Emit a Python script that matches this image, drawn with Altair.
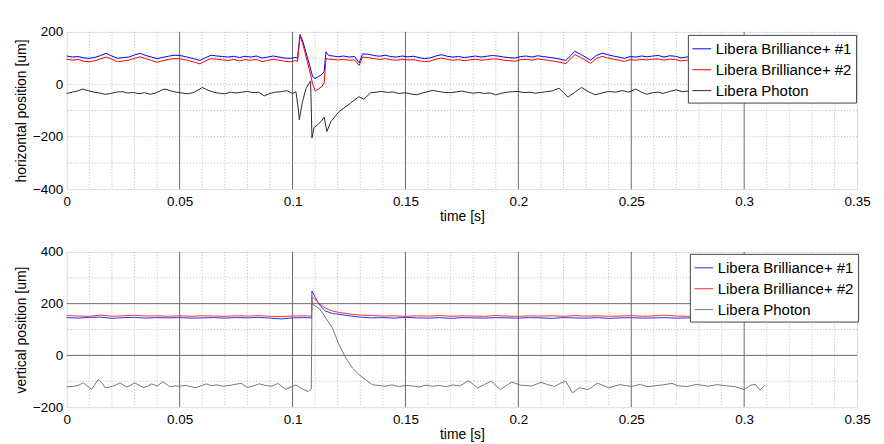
import altair as alt
import pandas as pd

SERIES = ["Libera Brilliance+ #1", "Libera Brilliance+ #2", "Libera Photon"]

# ---- top panel: horizontal position (t [s], blue #1, red #2) ----
TOP_BR = [
    (0.000, 108, 96), (0.0025, 104, 92), (0.005, 106, 95), (0.0075, 101, 88), (0.010, 99, 86),
    (0.0125, 103, 90), (0.015, 110, 97), (0.0175, 118, 104), (0.020, 108, 96), (0.0225, 99, 86),
    (0.025, 102, 89), (0.0275, 104, 92), (0.030, 112, 99), (0.0325, 118, 105), (0.035, 110, 98),
    (0.0375, 104, 91), (0.040, 98, 84), (0.0425, 103, 90), (0.045, 107, 95), (0.0475, 111, 98),
    (0.050, 110, 97), (0.0525, 106, 94), (0.055, 100, 88), (0.0575, 95, 82), (0.059, 91, 78),
    (0.0615, 102, 90), (0.064, 111, 98), (0.0665, 108, 96), (0.069, 106, 93), (0.0715, 104, 91),
    (0.074, 107, 95), (0.0765, 102, 89), (0.079, 107, 94), (0.0815, 104, 92), (0.084, 108, 95),
    (0.0865, 100, 87), (0.089, 104, 91), (0.0915, 108, 96), (0.094, 104, 92), (0.0965, 100, 88),
    (0.099, 99, 86), (0.1015, 103, 91), (0.1022, 99, 87), (0.1033, 190, 183), (0.1045, 165, 155),
    (0.106, 120, 105), (0.1075, 75, 55), (0.1089, 29, 2), (0.110, 22, -25), (0.1115, 30, -18),
    (0.113, 38, -8), (0.114, 48, 5), (0.1148, 124, 99), (0.116, 110, 96), (0.118, 108, 95),
    (0.120, 105, 93), (0.1225, 108, 95), (0.125, 104, 92), (0.1275, 106, 93), (0.1295, 82, 72),
    (0.131, 116, 104), (0.1335, 115, 102), (0.136, 110, 98), (0.1385, 107, 95), (0.141, 111, 98),
    (0.1435, 106, 94), (0.146, 104, 92), (0.1485, 108, 96), (0.151, 105, 93), (0.1535, 107, 94),
    (0.156, 102, 90), (0.1585, 98, 86), (0.161, 101, 89), (0.1635, 108, 96), (0.166, 113, 100),
    (0.1685, 107, 95), (0.171, 104, 92), (0.1735, 106, 94), (0.176, 102, 90), (0.1785, 105, 93),
    (0.181, 108, 96), (0.1835, 104, 92), (0.186, 107, 94), (0.1885, 110, 97), (0.191, 108, 96),
    (0.1935, 104, 92), (0.196, 102, 90), (0.1985, 100, 88), (0.201, 106, 94), (0.2035, 108, 95),
    (0.206, 104, 92), (0.2085, 109, 97), (0.211, 106, 94), (0.2135, 103, 91), (0.216, 100, 88),
    (0.2185, 96, 84), (0.221, 91, 79), (0.2235, 112, 100), (0.225, 126, 113), (0.2275, 115, 103),
    (0.230, 102, 90), (0.232, 92, 80), (0.2345, 110, 98), (0.237, 119, 107), (0.2395, 113, 101),
    (0.242, 108, 96), (0.2445, 104, 92), (0.247, 99, 87), (0.2495, 106, 94), (0.252, 104, 92),
    (0.2545, 108, 95), (0.257, 105, 93), (0.2595, 108, 96), (0.262, 110, 97), (0.2645, 104, 92),
    (0.267, 109, 96), (0.2695, 107, 95), (0.272, 101, 89), (0.2745, 104, 92), (0.277, 106, 94),
    (0.2795, 103, 91), (0.282, 107, 95), (0.2845, 105, 93), (0.287, 102, 90), (0.2895, 106, 94),
    (0.292, 108, 96), (0.2945, 104, 92), (0.297, 103, 91), (0.2995, 107, 95), (0.302, 105, 93),
    (0.3045, 102, 90), (0.307, 106, 94), (0.310, 104, 92),
]

# ---- top panel: Libera Photon (t [s], value) ----
TOP_PH = [
    (0.000, -35), (0.0025, -30), (0.005, -25), (0.007, -18), (0.0095, -24), (0.012, -30),
    (0.0145, -33), (0.017, -38), (0.0195, -35), (0.022, -30), (0.0245, -28), (0.027, -33),
    (0.0295, -31), (0.032, -36), (0.0345, -32), (0.037, -38), (0.0395, -33), (0.042, -22),
    (0.0435, -18), (0.046, -25), (0.0485, -30), (0.051, -33), (0.0535, -36), (0.056, -32),
    (0.0585, -20), (0.060, -12), (0.0625, -22), (0.065, -30), (0.0675, -34), (0.070, -36),
    (0.0725, -30), (0.075, -33), (0.0775, -30), (0.080, -27), (0.0825, -32), (0.085, -30),
    (0.0875, -44), (0.090, -35), (0.0925, -30), (0.095, -28), (0.0975, -24), (0.100, -35),
    (0.1015, -28), (0.1025, -90), (0.103, -135), (0.1037, -100), (0.1044, -66), (0.106, -15),
    (0.108, 13), (0.1086, -205), (0.1095, -165), (0.111, -155), (0.1126, -142), (0.114, -125),
    (0.1152, -180), (0.117, -142), (0.1206, -104), (0.125, -76), (0.1294, -47), (0.1316, -57),
    (0.1346, -32), (0.137, -30), (0.1395, -27), (0.142, -31), (0.1445, -29), (0.147, -35),
    (0.150, -32), (0.1525, -37), (0.155, -40), (0.1575, -33), (0.160, -28), (0.162, -23),
    (0.165, -28), (0.1675, -31), (0.170, -32), (0.1725, -29), (0.175, -26), (0.1775, -30),
    (0.180, -34), (0.1825, -31), (0.185, -35), (0.1875, -33), (0.190, -40), (0.1925, -34),
    (0.195, -30), (0.1975, -28), (0.200, -27), (0.2025, -32), (0.205, -30), (0.2075, -34),
    (0.210, -31), (0.2125, -28), (0.215, -25), (0.218, -15), (0.220, -32), (0.222, -49),
    (0.225, -30), (0.228, -12), (0.231, -28), (0.234, -40), (0.237, -33), (0.240, -27),
    (0.243, -30), (0.246, -24), (0.249, -30), (0.252, -18), (0.2545, -30), (0.257, -38),
    (0.2595, -32), (0.262, -30), (0.264, -35), (0.267, -27), (0.270, -21), (0.2725, -28),
    (0.275, -26), (0.278, -30), (0.281, -27), (0.284, -32), (0.287, -28), (0.290, -30),
    (0.293, -26), (0.296, -31), (0.299, -29), (0.302, -33), (0.305, -28), (0.308, -30),
    (0.310, -27),
]

# ---- bottom panel: vertical position (t [s], blue #1, red #2) ----
BOT_BR = [
    (0.000, 146, 154), (0.005, 144, 152), (0.010, 147, 151), (0.015, 148, 156), (0.020, 143, 151),
    (0.025, 146, 153), (0.030, 147, 155), (0.035, 144, 152), (0.040, 146, 153), (0.045, 145, 151),
    (0.050, 146, 153), (0.055, 144, 151), (0.060, 145, 153), (0.065, 146, 152), (0.070, 144, 151),
    (0.075, 146, 153), (0.080, 145, 152), (0.085, 147, 154), (0.090, 144, 151), (0.095, 141, 150),
    (0.100, 145, 152), (0.105, 146, 153), (0.1084, 145, 152), (0.1086, 249, 227), (0.110, 225, 215),
    (0.112, 195, 200), (0.1144, 172, 183), (0.1177, 162, 172), (0.1206, 159, 166), (0.125, 153, 160),
    (0.130, 148, 156), (0.135, 145, 154), (0.140, 146, 152), (0.145, 144, 153), (0.150, 147, 151),
    (0.155, 145, 153), (0.160, 144, 152), (0.165, 146, 154), (0.170, 143, 151), (0.175, 146, 153),
    (0.180, 145, 152), (0.185, 144, 151), (0.190, 146, 154), (0.195, 145, 152), (0.200, 144, 151),
    (0.205, 146, 153), (0.210, 145, 152), (0.215, 143, 153), (0.220, 146, 151), (0.225, 145, 154),
    (0.230, 144, 152), (0.235, 146, 153), (0.240, 143, 151), (0.245, 145, 152), (0.250, 146, 154),
    (0.255, 144, 151), (0.260, 145, 153), (0.265, 146, 155), (0.270, 144, 152), (0.275, 145, 151),
    (0.280, 146, 153), (0.285, 145, 152), (0.290, 144, 151), (0.295, 146, 153), (0.300, 145, 152),
    (0.305, 144, 151), (0.310, 145, 152),
]

# ---- bottom panel: Libera Photon (t [s], value) ----
BOT_PH = [
    (0.000, -122), (0.0025, -120), (0.005, -116), (0.0074, -106), (0.009, -118), (0.011, -131),
    (0.0125, -112), (0.014, -93), (0.0155, -105), (0.017, -125), (0.019, -122), (0.0215, -115),
    (0.0236, -106), (0.0265, -122), (0.028, -117), (0.030, -106), (0.032, -115), (0.034, -124),
    (0.036, -118), (0.0376, -110), (0.040, -118), (0.0427, -102), (0.0456, -121), (0.048, -118),
    (0.050, -119), (0.053, -116), (0.0555, -122), (0.0574, -124), (0.060, -116), (0.0618, -110),
    (0.064, -117), (0.0665, -114), (0.0691, -119), (0.072, -116), (0.0745, -112), (0.0773, -108),
    (0.080, -124), (0.0825, -118), (0.0853, -110), (0.088, -116), (0.091, -119), (0.0934, -108),
    (0.097, -131), (0.0995, -122), (0.1015, -114), (0.104, -128), (0.107, -140), (0.1083, -130),
    (0.1086, 214), (0.1093, 195), (0.112, 180), (0.1148, 144), (0.1177, 105), (0.1206, 41),
    (0.1236, -10), (0.1265, -49), (0.1294, -74), (0.1324, -94), (0.1353, -113), (0.138, -116),
    (0.141, -119), (0.144, -114), (0.147, -120), (0.150, -116), (0.153, -118), (0.156, -122),
    (0.159, -115), (0.162, -119), (0.165, -116), (0.168, -121), (0.171, -114), (0.174, -118),
    (0.178, -98), (0.182, -126), (0.185, -112), (0.188, -100), (0.192, -132), (0.197, -103),
    (0.201, -115), (0.206, -118), (0.210, -104), (0.213, -113), (0.216, -120), (0.219, -106),
    (0.221, -100), (0.224, -145), (0.227, -125), (0.231, -132), (0.235, -107), (0.240, -125),
    (0.245, -113), (0.250, -120), (0.254, -112), (0.257, -121), (0.261, -117), (0.264, -114),
    (0.268, -108), (0.271, -118), (0.275, -120), (0.279, -112), (0.284, -119), (0.288, -113),
    (0.2926, -118), (0.296, -121), (0.300, -132), (0.303, -115), (0.305, -112), (0.307, -134),
    (0.309, -117),
]

X_TICKS = [0, 0.05, 0.1, 0.15, 0.2, 0.25, 0.3, 0.35]
X_MAJOR_GRID = [0.05, 0.1, 0.15, 0.2, 0.25, 0.3]
X_MINOR_GRID = [0.01, 0.02, 0.03, 0.04, 0.06, 0.07, 0.08, 0.09, 0.11, 0.12, 0.13, 0.14,
                0.16, 0.17, 0.18, 0.19, 0.21, 0.22, 0.23, 0.24, 0.26, 0.27, 0.28, 0.29,
                0.31, 0.32, 0.33, 0.34]
TOP_Y_TICKS = [-400, -200, 0, 200]
TOP_Y_MAJOR_GRID = []
TOP_Y_MINOR_GRID = [-300, -200, -100, 0, 100]
BOT_Y_TICKS = [-200, 0, 200, 400]
BOT_Y_MAJOR_GRID = [0, 200]
BOT_Y_MINOR_GRID = [-100, 100, 300]

FONT = "Liberation Sans"


def long_frame(br, ph):
    rows = []
    for t, b, r in br:
        rows.append({"t": t, "v": b, "series": SERIES[0]})
    for t, b, r in br:
        rows.append({"t": t, "v": r, "series": SERIES[1]})
    for t, p in ph:
        rows.append({"t": t, "v": p, "series": SERIES[2]})
    return pd.DataFrame(rows)


def panel(df, ydom, yticks, ymajor, yminor, colors, ytitle, height, lx, ly):
    xs = alt.Scale(domain=[0, 0.35], nice=False, zero=False)
    ys = alt.Scale(domain=ydom, nice=False, zero=False)
    x_axis = alt.Axis(values=X_TICKS, format="~g", title="time [s]", grid=False,
                      ticks=False, domain=False, labelFlush=False,
                      labelFontSize=13.5, labelPadding=5, titleFontSize=14,
                      titleFontWeight="normal", titlePadding=2,
                      labelColor="black", titleColor="black",
                      labelFont=FONT, titleFont=FONT)
    y_axis = alt.Axis(values=yticks, title=ytitle, grid=False, ticks=False,
                      domain=False, labelFontSize=13.5, labelPadding=4,
                      titleFontSize=14, titleFontWeight="normal", titlePadding=4,
                      labelColor="black", titleColor="black",
                      labelFont=FONT, titleFont=FONT, labelFlush=False)
    layers = []
    layers.append(
        alt.Chart(pd.DataFrame({"t": X_MINOR_GRID}))
        .mark_rule(color="#b8b8b8", strokeDash=[1, 2], strokeWidth=1)
        .encode(x=alt.X("t:Q", scale=xs, axis=x_axis))
    )
    layers.append(
        alt.Chart(pd.DataFrame({"v": yminor}))
        .mark_rule(color="#b8b8b8", strokeDash=[1, 2], strokeWidth=1)
        .encode(y=alt.Y("v:Q", scale=ys, axis=y_axis))
    )
    layers.append(
        alt.Chart(pd.DataFrame({"t": X_MAJOR_GRID}))
        .mark_rule(color="#6a6a6a", strokeWidth=1)
        .encode(x=alt.X("t:Q", scale=xs, axis=x_axis))
    )
    if ymajor:
        layers.append(
            alt.Chart(pd.DataFrame({"v": ymajor}))
            .mark_rule(color="#6a6a6a", strokeWidth=1)
            .encode(y=alt.Y("v:Q", scale=ys, axis=y_axis))
        )
    lines = (
        alt.Chart(df)
        .mark_line(strokeWidth=1)
        .encode(
            x=alt.X("t:Q", scale=xs, axis=x_axis),
            y=alt.Y("v:Q", scale=ys, axis=y_axis),
            stroke=alt.Stroke("series:N",
                              scale=alt.Scale(domain=SERIES, range=colors),
                              legend=alt.Legend(title=None, orient="none", legendX=lx, legendY=ly,
                                                symbolSize=361,
                                                symbolStrokeWidth=1, labelFontSize=15,
                                                labelFont=FONT, labelColor="black",
                                                strokeColor="#444444", fillColor="white",
                                                padding=4, rowPadding=3, labelOffset=4,
                                                cornerRadius=0, labelLimit=300)),
        )
    )
    layers.append(lines)
    return alt.layer(*layers).properties(width=794, height=height)


top = panel(long_frame(TOP_BR, TOP_PH), [-400, 200], TOP_Y_TICKS, TOP_Y_MAJOR_GRID,
            TOP_Y_MINOR_GRID, ["#0000ff", "#ff0000", "#2a2a2a"],
            "horizontal position [um]", 158, 624, 3)
bottom = panel(long_frame(BOT_BR, BOT_PH), [-200, 400], BOT_Y_TICKS, BOT_Y_MAJOR_GRID,
               BOT_Y_MINOR_GRID, ["#2233ff", "#ff3333", "#777777"],
               "vertical position [um]", 156, 626, 2)

chart = (
    alt.vconcat(top, bottom, spacing=20)
    .resolve_scale(stroke="independent")
    .properties(padding={"left": 6, "top": 15, "right": 5, "bottom": 2}, background="white")
    .configure_view(stroke="#8a8a8a", strokeWidth=1)
    .configure(font=FONT)
)

chart.save("out.html", embed_options={"renderer": "svg", "actions": False})
